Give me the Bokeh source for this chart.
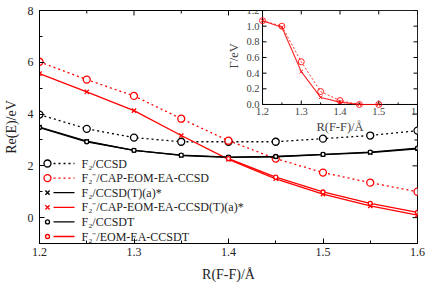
import math
from bokeh.plotting import figure
from bokeh.models import (Range1d, FixedTicker, ColumnDataSource, LabelSet, CoordinateMapping)
from bokeh.embed import file_html
from bokeh.resources import INLINE

# ---------------- data ----------------
r = [1.20, 1.25, 1.30, 1.35, 1.40, 1.45, 1.50, 1.55, 1.60]
f2_ccsd        = [3.98, 3.43, 3.09, 2.93, 2.93, 2.93, 3.05, 3.17, 3.36]
f2m_cap_ccsd   = [6.02, 5.33, 4.70, 3.82, 2.97, 2.28, 1.74, 1.35, 1.00]
f2_ccsd_t      = [3.50, 2.95, 2.60, 2.40, 2.33, 2.35, 2.43, 2.51, 2.66]
f2m_cap_ccsd_t = [5.56, 4.86, 4.13, 3.17, 2.25, 1.50, 0.91, 0.45, 0.10]
f2_ccsdt       = [3.48, 2.93, 2.60, 2.41, 2.34, 2.36, 2.44, 2.53, 2.68]
r_eom = [1.40, 1.45, 1.50, 1.55, 1.60]
f2m_eom_ccsdt  = [2.28, 1.56, 0.99, 0.55, 0.20]

r_gamma = [1.20, 1.25, 1.30, 1.35, 1.40, 1.45, 1.50]
gamma_cap_ccsd   = [1.07, 1.00, 0.545, 0.165, 0.05, 0.0, 0.0]
gamma_cap_ccsd_t = [1.07, 0.985, 0.42, 0.09, 0.03, 0.0, 0.0]

main_xticks = [1.2, 1.3, 1.4, 1.5, 1.6]
main_xminor = [1.25, 1.35, 1.45, 1.55]
main_yticks = [0, 2, 4, 6, 8]
main_yminor = [-1, 1, 3, 5, 7]

inset_xticks = [1.2, 1.3, 1.4, 1.5, 1.6]
inset_xminor = [1.25, 1.35, 1.45, 1.55]
inset_xtick_labels = ["1.2", "1.3", "1.4", "1.5", "1.6"]
inset_yticks = [0.0, 0.2, 0.4, 0.6, 0.8, 1.0, 1.2]
inset_ytick_labels = ["0.0", "0.2", "0.4", "0.6", "0.8", "1.0", "1.2"]

labels = ["F\u2082/CCSD", "F\u2082\u207b/CAP-EOM-EA-CCSD", "F\u2082/CCSD(T)(a)*",
          "F\u2082\u207b/CAP-EOM-EA-CCSD(T)(a)*", "F\u2082/CCSDT", "F\u2082\u207b/EOM-EA-CCSDT"]

RED = "#ff0000"
BLK = "#000000"
FONT = "Liberation Serif"

W, H = 429, 287
BL, BR, BT, BB = 39, 12, 10, 44
FW, FH = W - BL - BR, H - BT - BB

p = figure(width=W, height=H, x_range=Range1d(1.2, 1.6), y_range=Range1d(-1, 8),
           output_backend="svg", toolbar_location=None,
           min_border_left=BL, min_border_right=BR, min_border_top=BT, min_border_bottom=BB)
p.xgrid.visible = False
p.ygrid.visible = False
p.outline_line_color = "black"
p.outline_line_alpha = 1
p.outline_line_width = 1

for ax, tk, mn in ((p.xaxis[0], main_xticks, main_xminor), (p.yaxis[0], main_yticks, main_yminor)):
    ax.ticker = FixedTicker(ticks=tk, minor_ticks=mn)
    ax.major_tick_in = 5
    ax.major_tick_out = 0
    ax.minor_tick_in = 3
    ax.minor_tick_out = 0
    ax.axis_line_color = "black"
    ax.major_tick_line_color = "black"
    ax.minor_tick_line_color = "black"
    ax.major_label_text_font = FONT
    ax.major_label_text_color = "#222222"
    ax.major_label_text_font_size = "12px"
    ax.axis_label_text_font = FONT
    ax.axis_label_text_font_size = "14px"
    ax.axis_label_text_font_style = "normal"
    ax.axis_label_text_color = "#222222"
p.xaxis[0].axis_label = "R(F-F)/\u00c5"
p.xaxis[0].major_label_standoff = 4
p.xaxis[0].axis_label_standoff = 8
p.yaxis[0].axis_label = "Re(E)/eV"
p.yaxis[0].major_label_standoff = 6
p.yaxis[0].axis_label_standoff = 6

# mirrored inward ticks on top and right edges
p.ray(x=main_xticks, y=[8] * len(main_xticks), length=5, angle=-math.pi / 2,
      length_units="screen", line_color="black", line_width=1)
p.ray(x=main_xminor, y=[8] * len(main_xminor), length=3, angle=-math.pi / 2,
      length_units="screen", line_color="black", line_width=1)
p.ray(x=[1.6] * len(main_yticks), y=main_yticks, length=5, angle=math.pi,
      length_units="screen", line_color="black", line_width=1)
p.ray(x=[1.6] * len(main_yminor), y=main_yminor, length=3, angle=math.pi,
      length_units="screen", line_color="black", line_width=1)

# ---------------- main series ----------------
styles = [
    dict(color=BLK, dash="2 3", marker="circle", size=7),
    dict(color=RED, dash="2 3", marker="circle", size=7),
    dict(color=BLK, dash="solid", marker="x", size=6),
    dict(color=RED, dash="solid", marker="x", size=6),
    dict(color=BLK, dash="solid", marker="circle", size=4),
    dict(color=RED, dash="solid", marker="circle", size=4),
]
series = [(r, f2_ccsd), (r, f2m_cap_ccsd), (r, f2_ccsd_t), (r, f2m_cap_ccsd_t),
          (r, f2_ccsdt), (r_eom, f2m_eom_ccsdt)]

for (xs, ys), st in zip(series, styles):
    p.line(xs, ys, line_color=st["color"], line_width=1.3, line_dash=st["dash"])
    p.scatter(xs, ys, marker=st["marker"], size=st["size"], line_color=st["color"],
              fill_color="white" if st["marker"] == "circle" else None, line_width=1.3)

# ---------------- legend (gnuplot style: point, then line sample, then text) ----------------
leg_xs, leg_ys = Range1d(0, FW), Range1d(0, FH)
leg = p.subplot(x_source=leg_xs, y_source=leg_ys, x_target=p.x_range, y_target=p.y_range)
leg_cm = CoordinateMapping(x_source=leg_xs, y_source=leg_ys, x_target=p.x_range, y_target=p.y_range)
row0, row_step = 80, 14.6
pt_x, ln_x0, ln_x1, tx_x = 8, 14, 35, 42
rows = [row0 - row_step * i for i in range(len(labels))]
for yrow, st in zip(rows, styles):
    leg.segment(x0=[ln_x0], y0=[yrow], x1=[ln_x1], y1=[yrow], line_color=st["color"],
                line_width=1.3, line_dash=st["dash"])
    leg.scatter([pt_x], [yrow], marker=st["marker"], size=st["size"], line_color=st["color"],
                fill_color="white" if st["marker"] == "circle" else None, line_width=1.3)
leg_src = ColumnDataSource(dict(x=[tx_x] * len(labels), y=rows, t=labels))
p.add_layout(LabelSet(x="x", y="y", text="t", source=leg_src, coordinates=leg_cm,
                      text_align="left", text_baseline="middle",
                      text_font=FONT, text_font_size="12px", text_color="#222222"))

# ---------------- inset ----------------
ix_src = Range1d(1.2, 1.6)
iy_src = Range1d(0.0, 1.2)
ix_tgt = Range1d(1.436, 1.6)
iy_tgt = Range1d(4.37, 8.0)
sub = p.subplot(x_source=ix_src, y_source=iy_src, x_target=ix_tgt, y_target=iy_tgt)
cm = CoordinateMapping(x_source=ix_src, y_source=iy_src, x_target=ix_tgt, y_target=iy_tgt)

sub.quad(left=[ix_src.start], right=[ix_src.end], bottom=[iy_src.start], top=[iy_src.end],
         fill_color="white", line_color="black", line_width=1)
sub.ray(x=inset_xticks, y=[iy_src.start] * len(inset_xticks), length=4, angle=math.pi / 2,
        length_units="screen", line_color="black", line_width=1)
sub.ray(x=inset_xminor, y=[iy_src.start] * len(inset_xminor), length=2, angle=math.pi / 2,
        length_units="screen", line_color="black", line_width=1)
sub.ray(x=inset_xticks, y=[iy_src.end] * len(inset_xticks), length=4, angle=-math.pi / 2,
        length_units="screen", line_color="black", line_width=1)
sub.ray(x=[ix_src.start] * len(inset_yticks), y=inset_yticks, length=4, angle=0,
        length_units="screen", line_color="black", line_width=1)
sub.ray(x=[ix_src.end] * len(inset_yticks), y=inset_yticks, length=4, angle=math.pi,
        length_units="screen", line_color="black", line_width=1)

sub.line(r_gamma, gamma_cap_ccsd, line_color=RED, line_width=1, line_dash="2 2", line_alpha=0.8)
sub.scatter(r_gamma, gamma_cap_ccsd, marker="circle", size=6, line_color=RED, fill_color=None,
            line_width=1, line_alpha=0.85)
sub.line(r_gamma, gamma_cap_ccsd_t, line_color=RED, line_width=1.1, line_alpha=0.85)
sub.scatter(r_gamma, gamma_cap_ccsd_t, marker="x", size=5, line_color=RED, line_width=1, line_alpha=0.85)

xl_src = ColumnDataSource(dict(x=inset_xticks, y=[iy_src.start] * len(inset_xticks), t=inset_xtick_labels))
yl_src = ColumnDataSource(dict(x=[ix_src.start] * len(inset_yticks), y=inset_yticks, t=inset_ytick_labels))
p.add_layout(LabelSet(x="x", y="y", text="t", source=xl_src, coordinates=cm,
                      y_offset=-4, text_align="center", text_baseline="top",
                      text_font=FONT, text_font_size="10.5px", text_color="#444444"))
p.add_layout(LabelSet(x="x", y="y", text="t", source=yl_src, coordinates=cm,
                      x_offset=-3, text_align="right", text_baseline="middle",
                      text_font=FONT, text_font_size="10.5px", text_color="#444444"))
ttl_src = ColumnDataSource(dict(x=[1.4], y=[iy_src.start], t=["R(F-F)/\u00c5"]))
p.add_layout(LabelSet(x="x", y="y", text="t", source=ttl_src, coordinates=cm,
                      y_offset=-16, text_align="center", text_baseline="top",
                      text_font=FONT, text_font_size="12.5px", text_color="#444444"))
gl_src = ColumnDataSource(dict(x=[ix_src.start], y=[0.62], t=["\u0393/eV"]))
p.add_layout(LabelSet(x="x", y="y", text="t", source=gl_src, coordinates=cm,
                      x_offset=-29, angle=math.pi / 2, text_align="center", text_baseline="middle",
                      text_font=FONT, text_font_size="12.5px", text_color="#444444"))

open("out.html", "w").write(file_html(p, INLINE))
